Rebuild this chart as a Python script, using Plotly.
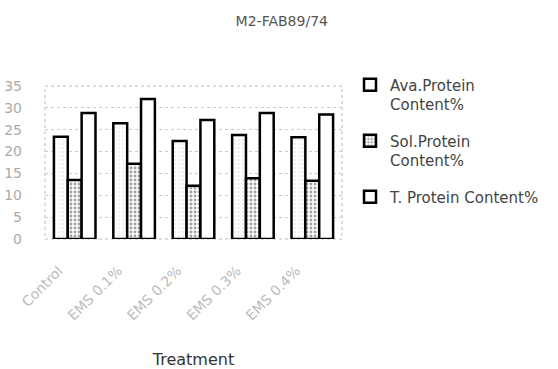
import plotly.graph_objects as go

categories = ["Control", "EMS 0.1%", "EMS 0.2%", "EMS 0.3%", "EMS 0.4%"]
ava = [23.4, 26.5, 22.4, 23.8, 23.3]
sol = [13.5, 17.2, 12.2, 13.9, 13.3]
tot = [28.8, 32.0, 27.2, 28.8, 28.5]
names = ["Ava.Protein<br>Content%", "Sol.Protein<br>Content%", "T. Protein Content%"]

FONT = "DejaVu Sans, Liberation Sans, Arial"

fig = go.Figure()
fig.add_trace(go.Bar(x=categories, y=ava, name=names[0], legendgroup="a",
                     marker=dict(color="white", line=dict(color="black", width=2.5),
                                 pattern=dict(shape=".", size=4, solidity=0.1, fgcolor="#aaa"))))
fig.add_trace(go.Bar(x=categories, y=sol, name=names[1], legendgroup="b",
                     marker=dict(color="white", line=dict(color="black", width=2.5),
                                 pattern=dict(shape=".", size=4, solidity=0.4, fgcolor="#444"))))
fig.add_trace(go.Bar(x=categories, y=tot, name=names[2], legendgroup="c",
                     marker=dict(color="white", line=dict(color="black", width=2.5))))

fig.add_shape(type="rect", xref="paper", yref="paper", x0=0, x1=1, y0=0, y1=1,
              line=dict(color="#bbb", width=1, dash="dot"), layer="below")

fig.update_layout(
    width=558, height=369,
    margin=dict(l=45, r=216, t=86, b=130, autoexpand=False),
    paper_bgcolor="white", plot_bgcolor="white",
    font=dict(family=FONT, color="#555"),
    title=dict(text="M2-FAB89/74", x=0.505, xanchor="center", xref="container",
               y=0.943, yanchor="middle", font=dict(size=14, color="#555")),
    bargap=0.3, bargroupgap=0,
    showlegend=True,
    legend=dict(x=1.027, y=1.115, xanchor="left", yanchor="top", valign="top",
                font=dict(size=15, color="#444"), bgcolor="rgba(0,0,0,0)",
                tracegroupgap=14, itemwidth=30),
    xaxis=dict(tickangle=-45, tickfont=dict(size=14, color="#bbb"),
               ticklabelstandoff=20, ticklabelshift=-16, automargin=False,
               title=dict(text="Treatment", font=dict(size=16, color="#333"), standoff=36),
               showline=False, ticks=""),
    yaxis=dict(range=[0, 35], dtick=5, tickfont=dict(size=14, color="#aaa"),
               ticklabelstandoff=22, automargin=False,
               showgrid=True, gridcolor="#ccc", griddash="dot", gridwidth=1,
               showline=False, ticks="", zeroline=False),
)
fig.write_html("out.html")
